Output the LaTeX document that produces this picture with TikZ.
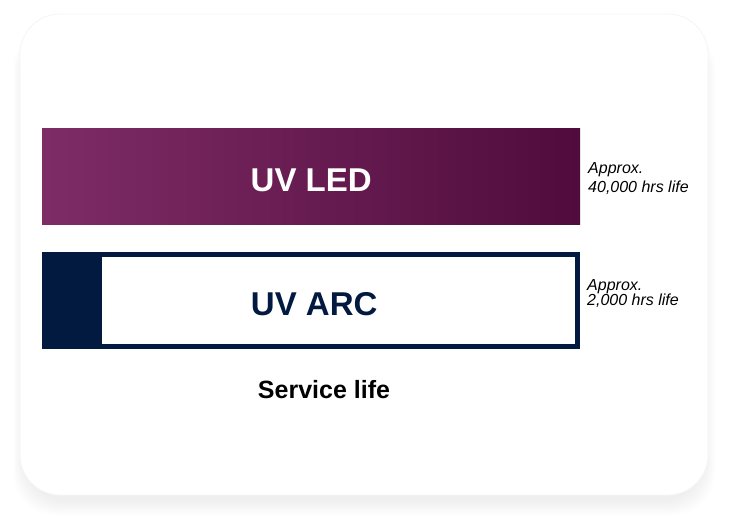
\documentclass[tikz,border=0pt]{standalone}
\usepackage{fontspec}
\setmainfont{Liberation Sans}
\usetikzlibrary{positioning}
\definecolor{ledpurple}{RGB}{126,44,102}
\definecolor{leddark}{RGB}{80,12,60}
\definecolor{arcnavy}{RGB}{2,25,64}

\begin{document}
\begin{tikzpicture}[x=1pt,y=-1pt,
	bar/.style={minimum width=538pt, minimum height=97pt, inner sep=0pt, anchor=north west},
	bartext/.style={font=\fontsize{33}{40}\selectfont\bfseries},
	note/.style={font=\fontsize{16}{19}\selectfont\itshape, anchor=base west, inner sep=0pt}]
	
	\useasboundingbox (0,0) rectangle (730,523);
	
	% soft shadow under the card
	\foreach \r in {1,...,16}
		\fill[black, opacity=0.0035, rounded corners=44pt] (24-0.7*\r,40-\r) rectangle (704+0.7*\r,500+\r);
	\filldraw[fill=white, draw=black!4, line width=0.8pt, rounded corners=40pt] (20,14) rectangle (708,495);
	
	% bars
	\node[bar, minimum height=96pt, left color=ledpurple, right color=leddark] (led) at (42,128) {};
	\node[bar, fill=arcnavy] (arc) at (42,252) {};
	\node[fill=white, inner sep=0pt, minimum width=473pt, minimum height=87pt, anchor=north east]
		(arcwin) at ([xshift=-5pt,yshift=-5pt]arc.north east) {};
	
	\node[bartext, white] (ledlabel) at ([yshift=-4pt]led.center) {UV LED};
	\node[bartext, arcnavy] (arclabel) at ([xshift=3pt,yshift=-3.5pt]arc.center) {UV ARC};
	
	\node[font=\fontsize{25}{30}\selectfont\bfseries, anchor=base] (life) at (324,398) {Service life};
	
	% lifetimes
	\node[note] (ledapprox) at (588,173) {Approx.};
	\node[note] (ledhours) at (588,192) {40,000 hrs life};
	\node[note] (arcapprox) at (587,290.5) {Approx.};
	\node[note] (archours) at (587,305) {2,000 hrs life};
	
\end{tikzpicture}
\end{document}
